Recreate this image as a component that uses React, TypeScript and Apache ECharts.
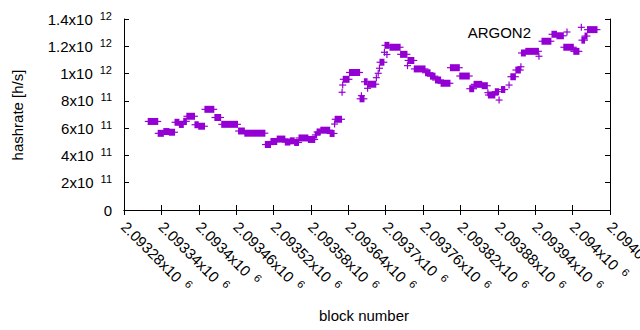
import React, { useEffect, useRef } from 'react';
import * as echarts from 'echarts';

// x axis (block number) ticks
const xMin = 2093280;
const xMax = 2094060;
const xStep = 60;
// y axis (hashrate) ticks
const yMin = 0;
const yMax = 1.4e12;
const yStep = 2e11;

const seriesName = 'ARGON2';

// runs of consecutive blocks sharing the same hashrate (start block, end block, hashrate h/s)
const runStart = [
  2093319, 2093335, 2093344, 2093353, 2093362, 2093369, 2093376, 2093381, 2093394, 2093400,
  2093410, 2093426, 2093437, 2093464, 2093474, 2093507, 2093516, 2093526, 2093539, 2093547,
  2093554, 2093561, 2093576, 2093587, 2093590, 2093596, 2093611, 2093618, 2093619, 2093630,
  2093631, 2093632, 2093642, 2093659, 2093661, 2093666, 2093671, 2093672, 2093685, 2093688,
  2093690, 2093691, 2093698, 2093699, 2093702, 2093707, 2093724, 2093735, 2093736, 2093746,
  2093764, 2093772, 2093780, 2093789, 2093804, 2093819, 2093835, 2093842, 2093855, 2093864,
  2093865, 2093876, 2093882, 2093886, 2093898, 2093901, 2093909, 2093917, 2093918, 2093925,
  2093946, 2093951, 2093967, 2093975, 2093986, 2094002, 2094014, 2094015, 2094020, 2094024,
];
const runEnd = [
  2093334, 2093343, 2093352, 2093361, 2093368, 2093375, 2093380, 2093393, 2093399, 2093409,
  2093424, 2093435, 2093462, 2093473, 2093506, 2093515, 2093525, 2093538, 2093546, 2093553,
  2093560, 2093575, 2093586, 2093589, 2093595, 2093610, 2093617, 2093618, 2093629, 2093630,
  2093631, 2093641, 2093658, 2093665, 2093661, 2093670, 2093671, 2093684, 2093685, 2093688,
  2093690, 2093697, 2093698, 2093705, 2093702, 2093723, 2093734, 2093735, 2093745, 2093763,
  2093771, 2093779, 2093788, 2093803, 2093818, 2093834, 2093841, 2093854, 2093863, 2093864,
  2093875, 2093881, 2093882, 2093891, 2093898, 2093908, 2093916, 2093917, 2093924, 2093945,
  2093946, 2093965, 2093974, 2093985, 2094001, 2094010, 2094014, 2094019, 2094023, 2094039,
];
const runHashrate = [
  649e9, 562e9, 575e9, 570e9, 643e9, 627e9, 650e9, 687e9, 625e9, 614e9,
  738e9, 678e9, 628e9, 579e9, 563e9, 480e9, 502e9, 520e9, 498e9, 507e9,
  495e9, 528e9, 517e9, 550e9, 572e9, 585e9, 561e9, 630e9, 665e9, 863e9,
  916e9, 958e9, 1008e9, 815e9, 838e9, 940e9, 892e9, 922e9, 970e9, 1002e9,
  1039e9, 1083e9, 1156e9, 1207e9, 1140e9, 1193e9, 1141e9, 1058e9, 1096e9, 1034e9,
  1006e9, 981e9, 953e9, 929e9, 1043e9, 982e9, 889e9, 921e9, 911e9, 860e9,
  843e9, 867e9, 806e9, 883e9, 916e9, 977e9, 1026e9, 1050e9, 1151e9, 1163e9,
  1127e9, 1237e9, 1288e9, 1277e9, 1193e9, 1163e9, 1339e9, 1245e9, 1275e9, 1322e9,
];

const COLOR = '#9400d3';
const FONT = '"Liberation Sans", Arial, sans-serif';

function fmtY(v: number): string {
  if (v === 0) return '{m|0}';
  const e = Math.floor(Math.log10(v) + 1e-9);
  const m = parseFloat((v / Math.pow(10, e)).toFixed(2)).toString();
  return `{m|${m}x10}{s|${e}}`;
}
function fmtX(v: number): string {
  const m = parseFloat((v / 1e6).toFixed(6)).toString();
  return `{m|${m}x10}{s|6}`;
}

const rich = {
  m: { fontSize: 15, fontFamily: FONT, color: '#000', lineHeight: 18, verticalAlign: 'middle' },
  s: { fontSize: 11, fontFamily: FONT, color: '#000', lineHeight: 10, verticalAlign: 'top', padding: [0, 0, 0, 7] },
};

export default function App() {
  const ref = useRef<HTMLDivElement>(null);
  useEffect(() => {
    if (!ref.current) return;
    const chart = echarts.init(ref.current, undefined, { renderer: 'svg' });
    const data = runStart.map((s, i) => [s, runEnd[i], runHashrate[i]]);
    const axisLine = { show: true, lineStyle: { color: '#000', width: 1 } };
    chart.setOption({
      animation: false,
      backgroundColor: '#fff',
      grid: { left: 124, right: 30, top: 19, bottom: 120, containLabel: false, outerBoundsMode: 'none' },
      xAxis: [
        {
          type: 'value', min: xMin, max: xMax, interval: xStep, position: 'bottom',
          axisLine, splitLine: { show: false },
          axisTick: { show: true, inside: true, length: 5, lineStyle: { color: '#000' } },
          axisLabel: { rotate: -45, margin: 14, formatter: fmtX, rich, showMaxLabel: true, showMinLabel: true },
        },
        {
          type: 'value', min: xMin, max: xMax, interval: xStep, position: 'top',
          axisLine, splitLine: { show: false },
          axisTick: { show: true, inside: true, length: 5, lineStyle: { color: '#000' } },
          axisLabel: { show: false },
        },
      ],
      yAxis: [
        {
          type: 'value', min: yMin, max: yMax, interval: yStep, position: 'left',
          axisLine, splitLine: { show: false },
          axisTick: { show: true, inside: true, length: 5, lineStyle: { color: '#000' } },
          axisLabel: { margin: 12, formatter: fmtY, rich, showMaxLabel: true },
        },
        {
          type: 'value', min: yMin, max: yMax, interval: yStep, position: 'right',
          axisLine, splitLine: { show: false },
          axisTick: { show: true, inside: true, length: 5, lineStyle: { color: '#000' } },
          axisLabel: { show: false },
        },
      ],
      series: [
        {
          type: 'custom',
          name: seriesName,
          xAxisIndex: 0,
          yAxisIndex: 0,
          encode: { x: [0, 1], y: 2 },
          data,
          renderItem: (params: any, api: any) => {
            const a = api.coord([api.value(0), api.value(2)]);
            const b = api.coord([api.value(1), api.value(2)]);
            const h = 3.5;
            return {
              type: 'group',
              children: [
                { type: 'rect', shape: { x: a[0] - 0.6, y: a[1] - h, width: b[0] - a[0] + 1.2, height: 2 * h }, style: { fill: COLOR } },
                { type: 'line', shape: { x1: a[0] - h, y1: a[1], x2: b[0] + h, y2: a[1] }, style: { stroke: COLOR, lineWidth: 1.2 } },
              ],
            };
          },
        },
      ],
      graphic: [
        { type: 'text', x: 17, y: 115, rotation: Math.PI / 2, style: { text: 'hashrate [h/s]', font: `15px ${FONT}`, fill: '#000', align: 'center', verticalAlign: 'middle' } },
        { type: 'text', x: 364, y: 315, style: { text: 'block number', font: `15px ${FONT}`, fill: '#000', align: 'center', verticalAlign: 'middle' } },
        { type: 'text', x: 531, y: 32, style: { text: seriesName, font: `15px ${FONT}`, fill: '#000', align: 'right', verticalAlign: 'middle' } },
        { type: 'line', shape: { x1: 563.5, y1: 32, x2: 570.5, y2: 32 }, style: { stroke: COLOR, lineWidth: 1.2 } },
        { type: 'line', shape: { x1: 567, y1: 28.5, x2: 567, y2: 35.5 }, style: { stroke: COLOR, lineWidth: 1.2 } },
      ],
    });
    return () => chart.dispose();
  }, []);
  return <div ref={ref} style={{ width: 640, height: 330, position: 'absolute', left: 0, top: 0 }} />;
}
